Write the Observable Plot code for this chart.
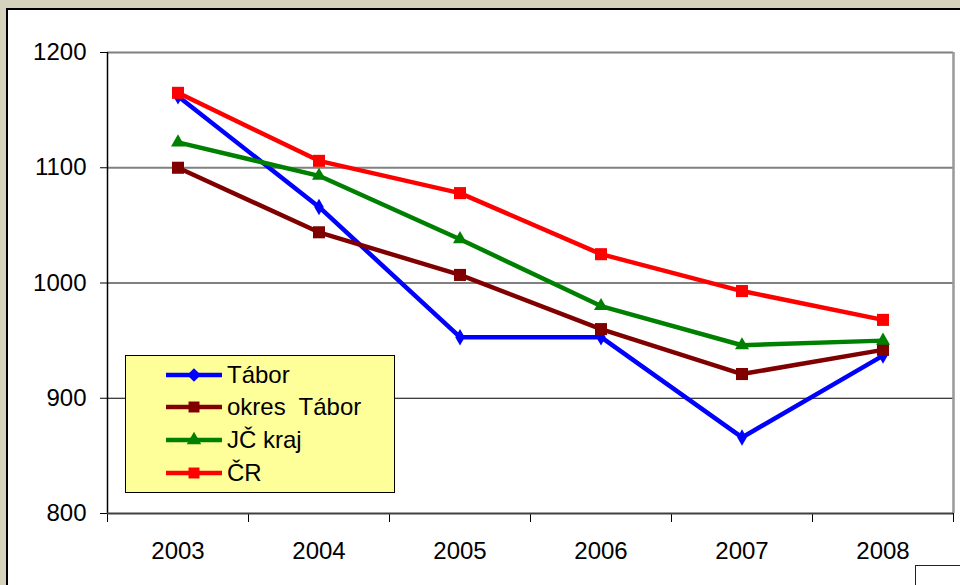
<!DOCTYPE html>
<html>
<head>
<meta charset="utf-8">
<script src="https://cdn.jsdelivr.net/npm/d3@7"></script>
<script src="https://cdn.jsdelivr.net/npm/@observablehq/plot@0.6"></script>
<style>
  html, body { margin: 0; padding: 0; }
  body { width: 960px; height: 585px; overflow: hidden; background: #d5d2be; position: relative; font-family: "Liberation Sans", Arial, sans-serif; }
  #panel { position: absolute; left: 6px; top: 8px; right: 0; bottom: 0; background: #fff; border-left: 2px solid #000; border-top: 2px solid #000; }
  #chart { position: absolute; left: 0; top: 0; }
  #legend { position: absolute; left: 125px; top: 355px; width: 268px; height: 136px; background: #ffff99; border: 1.5px solid #000; }
  .item { position: absolute; left: 40px; height: 32px; display: flex; align-items: center; font-size: 24px; color: #000; white-space: pre; }
  .item svg { margin-right: 5px; flex: none; }
  #corner { position: absolute; left: 915px; top: 565px; right: 0; bottom: 0; background: #fff; border-left: 1.5px solid #222; border-top: 1.5px solid #222; }
</style>
</head>
<body>
<div id="panel"></div>
<div id="chart"></div>
<div id="legend"></div>
<div id="corner"></div>
<script>
const years = [2003, 2004, 2005, 2006, 2007, 2008];
const seriesNames = ["Tábor", "okres  Tábor", "JČ kraj", "ČR"];
const tabor = [1162, 1066, 953, 953, 866, 937];
const okresTabor = [1100, 1044, 1007, 960, 921, 942];
const jcKraj = [1122, 1093, 1038, 980, 946, 950];
const cr = [1165, 1106, 1078, 1025, 993, 968];
const yTicks = [800, 900, 1000, 1100, 1200];
const colors = ["#0000ff", "#800000", "#008000", "#ff0000"];
const symbols = ["diamond", "square", "triangle", "square"];
const radii = [5, 6.8, 5.2, 6.8];

const values = [tabor, okresTabor, jcKraj, cr];
const data = [];
seriesNames.forEach((s, si) => years.forEach((yr, i) => data.push({series: s, year: yr, value: values[si][i]})));

const marks = [
  Plot.ruleY([1000, 1100, 1200], {stroke: "#808080", strokeWidth: 2}),
  Plot.ruleY([900], {stroke: "#000", strokeWidth: 1}),
  Plot.ruleX([2008.5], {y1: 800, y2: 1200, stroke: "#999", strokeWidth: 2.5}),
  Plot.axisY({ticks: yTicks, tickSize: 7, tickPadding: 14, label: null, tickFormat: d => String(d), stroke: "#000"}),
  Plot.axisX({ticks: [2002.5, 2003.5, 2004.5, 2005.5, 2006.5, 2007.5, 2008.5], tickSize: 9, label: null, tickFormat: () => "", stroke: "#000"}),
  Plot.axisX({ticks: years, tickSize: 0, tickPadding: 28, label: null, tickFormat: d => String(d)}),
  Plot.ruleX([2002.5], {y1: 800, y2: 1200, stroke: "#000", strokeWidth: 1.5}),
  Plot.ruleY([800], {stroke: "#404040", strokeWidth: 2})
];
seriesNames.forEach((s, si) => {
  const d = data.filter(r => r.series === s);
  marks.push(Plot.line(d, {x: "year", y: "value", stroke: colors[si], strokeWidth: 4.5}));
  marks.push(Plot.dot(d, {x: "year", y: "value", fill: colors[si], symbol: symbols[si], r: radii[si]}));
});

const chart = Plot.plot({
  width: 960,
  height: 585,
  marginLeft: 107,
  marginRight: 7,
  marginTop: 52,
  marginBottom: 72,
  style: {background: "transparent", fontFamily: "'Liberation Sans', Arial, sans-serif", fontSize: "24px", color: "#000"},
  x: {domain: [2002.5, 2008.5], axis: null},
  y: {domain: [800, 1200], axis: null},
  marks
});
document.getElementById("chart").appendChild(chart);

// legend
const legend = document.getElementById("legend");
const symPath = {
  diamond: d3.symbol(d3.symbolDiamond2, 120)(),
  square: d3.symbol(d3.symbolSquare, 120)(),
  triangle: d3.symbol(d3.symbolTriangle, 90)()
};
seriesNames.forEach((s, si) => {
  const item = document.createElement("div");
  item.className = "item";
  item.style.top = (2.5 + si * 32.7) + "px";
  item.innerHTML = `<svg width="56" height="20"><line x1="0" x2="56" y1="10" y2="10" stroke="${colors[si]}" stroke-width="4.5"/><path transform="translate(28,10)" d="${symPath[symbols[si]]}" fill="${colors[si]}"/></svg><span>${s}</span>`;
  legend.appendChild(item);
});
</script>
</body>
</html>
